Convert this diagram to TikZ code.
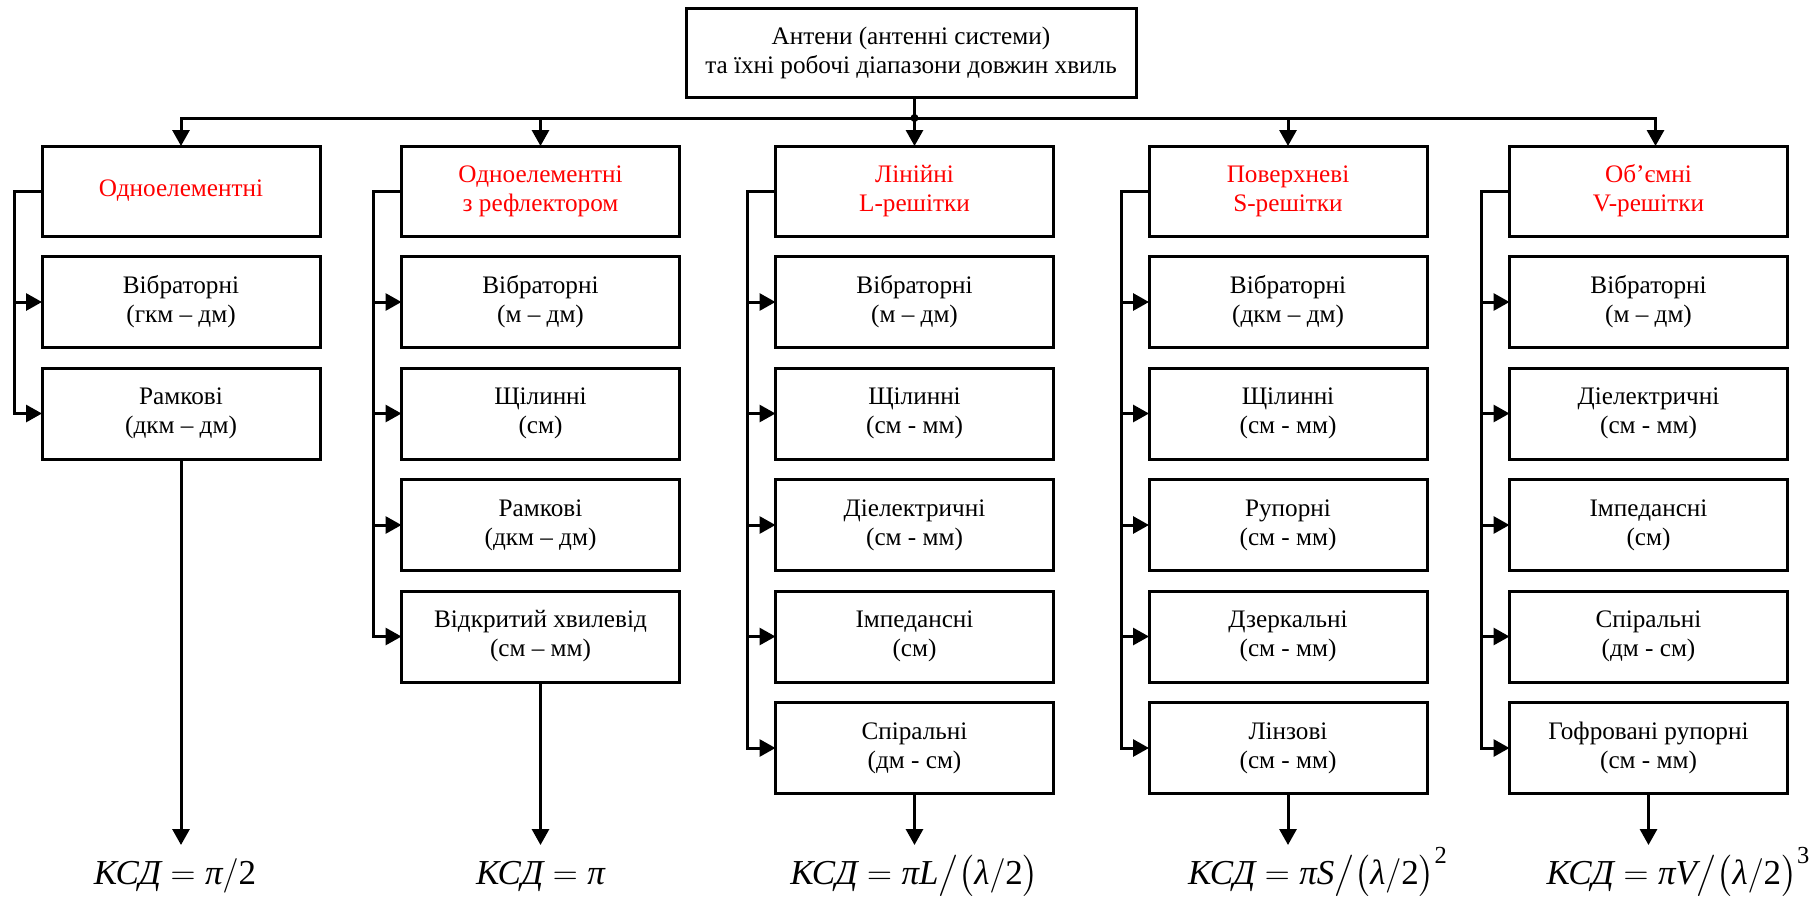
\documentclass[tikz,border=0pt]{standalone}
\usepackage{fontspec}
\setmainfont{Liberation Serif}
\usepackage{amsmath}
\usetikzlibrary{arrows.meta,positioning}

\begin{document}
\begin{tikzpicture}[x=0.5pt, y=-0.5pt, node distance=10.25pt,
  box/.style={rectangle, draw=black, line width=1.5pt, fill=white,
              minimum width=139pt, minimum height=45.5pt, inner sep=1pt, outer sep=0pt,
              align=center, font=\fontsize{12.6}{14.5}\selectfont},
  grp/.style={box, minimum height=45pt, text=red},
  ksd/.style={anchor=base, font=\fontsize{17.5}{20}\selectfont},
  link/.style={line width=1.5pt},
  arr/.style={link, -{Triangle[length=8pt, width=8.5pt]}}]

  \useasboundingbox (0,0) rectangle (1809,901);

  \node[box, minimum width=225pt, minimum height=44.5pt] (top) at (911,52.5)
    {Антени (антенні системи)\\та їхні робочі діапазони довжин хвиль};

  % column heads
  \node[grp] (g1) at (181,191) {Одноелементні};
  \node[grp] (g2) at (540.5,191) {Одноелементні\\з рефлектором};
  \node[grp] (g3) at (914.5,191) {Лінійні\\L-решітки};
  \node[grp] (g4) at (1288,191) {Поверхневі\\S-решітки};
  \node[grp] (g5) at (1648.5,191) {Об’ємні\\V-решітки};

  % column 1
  \node[box, below=of g1] (c11) {Вібраторні\\(гкм – дм)};
  \node[box, below=of c11] (c12) {Рамкові\\(дкм – дм)};

  % column 2
  \node[box, below=of g2] (c21) {Вібраторні\\(м – дм)};
  \node[box, below=of c21] (c22) {Щілинні\\(см)};
  \node[box, below=of c22] (c23) {Рамкові\\(дкм – дм)};
  \node[box, below=of c23] (c24) {Відкритий хвилевід\\(см – мм)};

  % column 3
  \node[box, below=of g3] (c31) {Вібраторні\\(м – дм)};
  \node[box, below=of c31] (c32) {Щілинні\\(см - мм)};
  \node[box, below=of c32] (c33) {Діелектричні\\(см - мм)};
  \node[box, below=of c33] (c34) {Імпедансні\\(см)};
  \node[box, below=of c34] (c35) {Спіральні\\(дм - см)};

  % column 4
  \node[box, below=of g4] (c41) {Вібраторні\\(дкм – дм)};
  \node[box, below=of c41] (c42) {Щілинні\\(см - мм)};
  \node[box, below=of c42] (c43) {Рупорні\\(см - мм)};
  \node[box, below=of c43] (c44) {Дзеркальні\\(см - мм)};
  \node[box, below=of c44] (c45) {Лінзові\\(см - мм)};

  % column 5
  \node[box, below=of g5] (c51) {Вібраторні\\(м – дм)};
  \node[box, below=of c51] (c52) {Діелектричні\\(см - мм)};
  \node[box, below=of c52] (c53) {Імпедансні\\(см)};
  \node[box, below=of c53] (c54) {Спіральні\\(дм - см)};
  \node[box, below=of c54] (c55) {Гофровані рупорні\\(см - мм)};

  % bus from the top box
  \coordinate (bus) at (0,118);
  \draw[arr] (top.south -| g3.north) -- (g3.north);
  \draw[arr] (g3.north |- bus) -| (g1.north);
  \draw[arr] (g3.north |- bus) -| ([xshift=3.5pt]g5.north);
  \draw[arr] (g2.north |- bus) -- (g2.north);
  \draw[arr] (g4.north |- bus) -- (g4.north);
  \fill (g3.north |- bus) circle (2pt);

  % side feeds
  \draw[arr] (g1.west) -- ++(-14pt,0) coordinate (s1) |- (c12.west);
  \draw[arr] (s1 |- c11.west) -- (c11.west);

  \draw[arr] (g2.west) -- ++(-14pt,0) coordinate (s2) |- (c24.west);
  \draw[arr] (s2 |- c21.west) -- (c21.west);
  \draw[arr] (s2 |- c22.west) -- (c22.west);
  \draw[arr] (s2 |- c23.west) -- (c23.west);

  \draw[arr] (g3.west) -- ++(-14pt,0) coordinate (s3) |- (c35.west);
  \draw[arr] (s3 |- c31.west) -- (c31.west);
  \draw[arr] (s3 |- c32.west) -- (c32.west);
  \draw[arr] (s3 |- c33.west) -- (c33.west);
  \draw[arr] (s3 |- c34.west) -- (c34.west);

  \draw[arr] (g4.west) -- ++(-14pt,0) coordinate (s4) |- (c45.west);
  \draw[arr] (s4 |- c41.west) -- (c41.west);
  \draw[arr] (s4 |- c42.west) -- (c42.west);
  \draw[arr] (s4 |- c43.west) -- (c43.west);
  \draw[arr] (s4 |- c44.west) -- (c44.west);

  \draw[arr] (g5.west) -- ++(-14pt,0) coordinate (s5) |- (c55.west);
  \draw[arr] (s5 |- c51.west) -- (c51.west);
  \draw[arr] (s5 |- c52.west) -- (c52.west);
  \draw[arr] (s5 |- c53.west) -- (c53.west);
  \draw[arr] (s5 |- c54.west) -- (c54.west);

  % outputs
  \draw[arr] (c12.south) -- (c12.south |- 0,845) coordinate (e1);
  \draw[arr] (c24.south) -- (c24.south |- 0,845) coordinate (e2);
  \draw[arr] (c35.south) -- (c35.south |- 0,845) coordinate (e3);
  \draw[arr] (c45.south) -- (c45.south |- 0,845) coordinate (e4);
  \draw[arr] (c55.south) -- (c55.south |- 0,845) coordinate (e5);

  \node[ksd] (f1) at ([xshift=-3pt, yshift=-19.5pt]e1) {$\textit{КСД} = \textit{π}/\textrm{2}$};
  \node[ksd] (f2) at ([yshift=-19.5pt]e2) {$\textit{КСД} = \textit{π}$};
  \node[ksd] (f3) at ([yshift=-19.5pt]e3) {$\textit{КСД} = \textit{πL}\big/\big(\textit{λ}/\textrm{2}\big)$};
  \node[ksd] (f4) at ([xshift=15pt, yshift=-19.5pt]e4) {$\textit{КСД} = \textit{πS}\big/\big(\textit{λ}/\textrm{2}\big)^{\textrm{2}}$};
  \node[ksd] (f5) at ([xshift=15pt, yshift=-19.5pt]e5) {$\textit{КСД} = \textit{πV}\big/\big(\textit{λ}/\textrm{2}\big)^{\textrm{3}}$};

\end{tikzpicture}
\end{document}
